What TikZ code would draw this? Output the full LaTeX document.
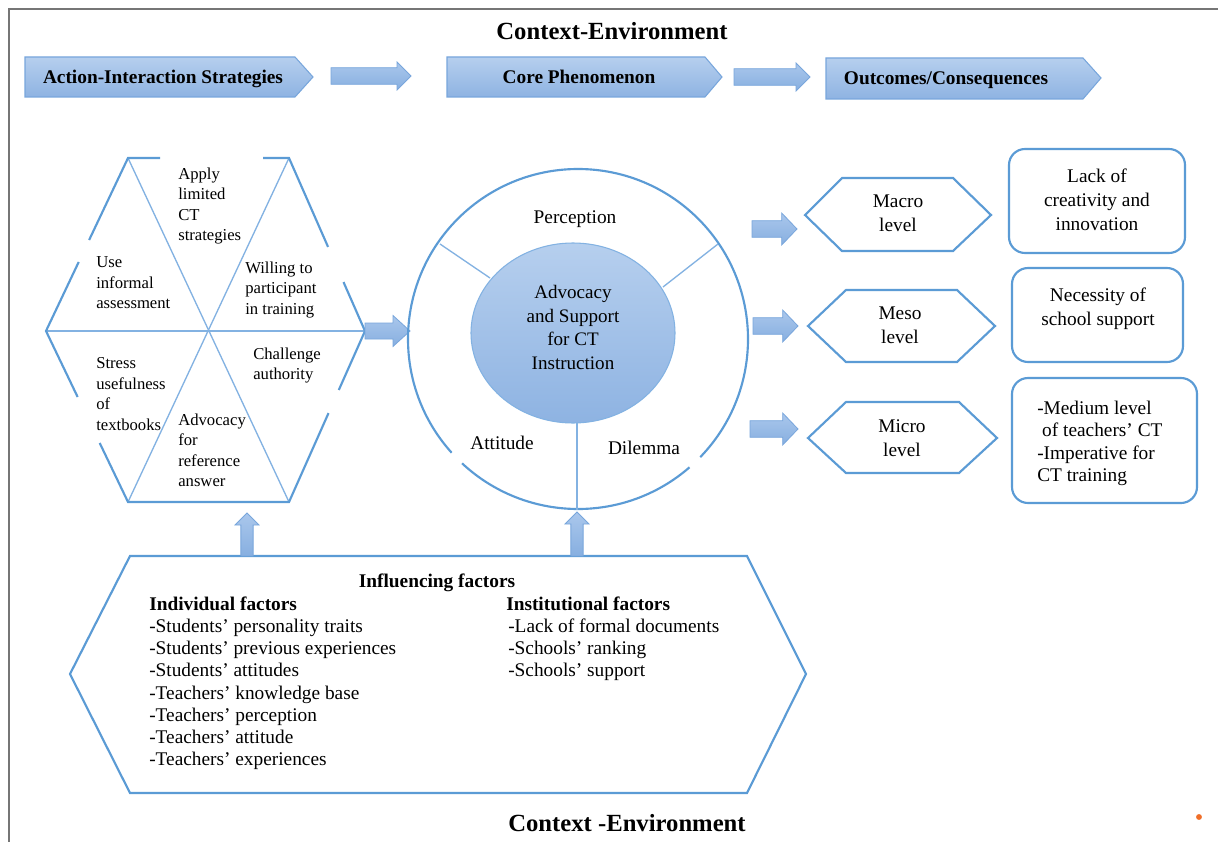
\documentclass[tikz,border=0pt]{standalone}
\usepackage{fontspec}
\setmainfont{Liberation Serif}
\usetikzlibrary{arrows.meta,shapes.geometric,calc}

\definecolor{linecol}{RGB}{91,155,213}
\definecolor{thincol}{RGB}{131,178,226}
\definecolor{filltop}{RGB}{182,207,238}
\definecolor{fillbot}{RGB}{142,179,226}
\definecolor{arrtop}{RGB}{170,199,236}
\definecolor{arrbot}{RGB}{135,175,224}
\definecolor{arrline}{RGB}{120,166,220}
\definecolor{framecol}{RGB}{118,118,118}
\definecolor{dotcol}{RGB}{240,110,40}

% #1 name, #2 start, #3 end, #4 shaft half width, #5 head half width, #6 head length
\newcommand\myblockarrow[6]{%
  \coordinate (#1-b) at ($(#3)!#6!(#2)$);
  \path[arrowfill] ($(#2)!#4!90:(#3)$) -- ($(#1-b)!#4!90:(#3)$) -- ($(#1-b)!#5!90:(#3)$) -- (#3)
    -- ($(#1-b)!#5!-90:(#3)$) -- ($(#1-b)!#4!-90:(#3)$) -- ($(#2)!#4!-90:(#3)$) -- cycle;
}

\begin{document}
\begin{tikzpicture}[x=0.75pt,y=-0.75pt,
  outl/.style={draw=linecol,line width=1.6pt},
  thinl/.style={draw=thincol,line width=1pt},
  gradfill/.style={top color=filltop,bottom color=fillbot},
  arrowfill/.style={top color=arrtop,bottom color=arrbot,draw=arrline,line width=0.6pt},
  bandshape/.style={gradfill,draw=arrline,line width=0.8pt},
  titletxt/.style={font=\fontsize{18.5}{22}\selectfont\bfseries,inner sep=0pt,anchor=base},
  bandtxt/.style={font=\fontsize{14.5}{17}\selectfont\bfseries,inner sep=0pt,anchor=base},
  hextxt/.style={font=\fontsize{12.5}{15.4}\selectfont,align=left,inner sep=0pt,anchor=north west},
  ctxt/.style={font=\fontsize{14.5}{18}\selectfont,align=center,inner sep=0pt},
  listtxt/.style={font=\fontsize{14.5}{16.65}\selectfont,align=left,inner sep=0pt,anchor=north west},
  outbox/.style={draw=linecol,line width=1.6pt,rounded corners=12pt,inner sep=0pt}
]
\useasboundingbox (0,0) rectangle (1218,842);
\fill[white] (0,0) rectangle (1218,842);
\draw[framecol,line width=1.5pt] (9,842) -- (9,9) -- (1218,9);

% ---------- title ----------
\node[titletxt] (ctop) at (612,40) {Context-Environment};

% ---------- band ----------
\path[bandshape] (25,57) -- (295,57) -- (313,77) -- (295,97) -- (25,97) -- cycle;
\path[bandshape] (447,57) -- (705,57) -- (722,77) -- (705,97) -- (447,97) -- cycle;
\path[bandshape] (826,58) -- (1083,58) -- (1101,78) -- (1083,99) -- (826,99) -- cycle;
\node[bandtxt] (band1) at (163,84) {Action-Interaction Strategies};
\node[bandtxt] (band2) at (579,84) {Core Phenomenon};
\node[bandtxt] (band3) at (946,85) {Outcomes/Consequences};
\coordinate (ba1s) at (331,76); \coordinate (ba1e) at (411,76);
\coordinate (ba2s) at (734,77); \coordinate (ba2e) at (810,77);
\myblockarrow{ba1}{ba1s}{ba1e}{6.2pt}{10.5pt}{10.5pt}
\myblockarrow{ba2}{ba2s}{ba2e}{6.2pt}{10.5pt}{10.5pt}

% ---------- left hexagon ----------
\coordinate (hL) at (46,331);  \coordinate (hTL) at (128,158);
\coordinate (hTR) at (289,158); \coordinate (hR) at (365,331);
\coordinate (hBR) at (289,502); \coordinate (hBL) at (128,502);
\draw[thinl] (hL) -- (hR);
\draw[thinl] (hTL) -- (hBR);
\draw[thinl] (hTR) -- (hBL);
\draw[outl] ($(hTL)!0.839!(hTR)$) -- (hTR) -- ($(hTR)!0.514!(hR)$);
\draw[outl] ($(hTR)!0.717!(hR)$) -- (hR) -- ($(hR)!0.345!(hBR)$);
\draw[outl] ($(hR)!0.48!(hBR)$) -- (hBR) -- (hBL) -- ($(hBL)!0.345!(hL)$);
\draw[outl] ($(hBL)!0.614!(hL)$) -- (hL) -- ($(hL)!0.399!(hTL)$);
\draw[outl] ($(hL)!0.526!(hTL)$) -- (hTL) -- ($(hTL)!0.199!(hTR)$);

\node[hextxt] (apply) at (178,167.5) {Apply\\limited\\CT\\strategies};
\node[hextxt] (use) at (96,256.5) {Use\\informal\\assessment};
\node[hextxt] (willing) at (245,261.5) {Willing to\\participant\\in training};
\node[hextxt] (challenge) at (253,347.5) {Challenge\\authority};
\node[hextxt] (stress) at (96,357.5) {Stress\\usefulness\\of\\textbooks};
\node[hextxt] (advoc) at (178,413.5) {Advocacy\\for\\reference\\answer};

% ---------- circle ----------
\coordinate (O) at (578,339);
\coordinate (cW) at (410,331);
\myblockarrow{ma}{hR}{cW}{6pt}{11.6pt}{12.75pt}
\draw[outl] (O) ++(227:127.5pt) arc[start angle=227,end angle=311,radius=127.5pt];
\draw[outl] (O) ++(316:127.5pt) arc[start angle=316,end angle=582,radius=127.5pt];
\node[ellipse,minimum width=153pt,minimum height=135pt,inner sep=0pt,gradfill,draw=thincol,line width=0.8pt] (coreshape) at (573,333) {};
\coordinate (sp1o) at (440,244); \coordinate (sp1i) at (490,278);
\coordinate (sp2o) at (718,244); \coordinate (sp2i) at (663,287);
\coordinate (sp3o) at (577,510); \coordinate (sp3i) at (577,423);
\draw[thinl] (sp1i) -- (sp1o);
\draw[thinl] (sp2i) -- (sp2o);
\draw[thinl] (sp3i) -- (sp3o);
\node[ctxt,font=\fontsize{14.3}{17.8}\selectfont,anchor=north] (coretext) at (573,285) {Advocacy\\and Support\\for CT\\Instruction};
\node[ctxt,anchor=base] (perc) at (575,223) {Perception};
\node[ctxt,anchor=base] (att) at (502,449) {Attitude};
\node[ctxt,anchor=base] (dil) at (644,454) {Dilemma};

% ---------- right side ----------
\coordinate (r1s) at (752,229); \coordinate (r1e) at (797,229);
\coordinate (r2s) at (753,326); \coordinate (r2e) at (798,326);
\coordinate (r3s) at (750,429); \coordinate (r3e) at (798,429);
\myblockarrow{r1}{r1s}{r1e}{6.2pt}{12pt}{11.5pt}
\myblockarrow{r2}{r2s}{r2e}{6.2pt}{12pt}{11.5pt}
\myblockarrow{r3}{r3s}{r3e}{6.2pt}{12pt}{11.5pt}

\draw[outl] (805,215) -- (842,178) -- (953,178) -- (991,215) -- (953,251) -- (842,251) -- cycle;
\draw[outl] (808,326) -- (846,290) -- (957,290) -- (995,326) -- (957,362) -- (846,362) -- cycle;
\draw[outl] (808,438) -- (846,402) -- (959,402) -- (997,438) -- (959,473) -- (846,473) -- cycle;
\node[ctxt,anchor=north] (macro) at (898,195) {Macro\\level};
\node[ctxt,anchor=north] (meso) at (900,307) {Meso\\level};
\node[ctxt,anchor=north] (micro) at (902,419) {Micro\\level};

\node[outbox,minimum width=132pt,minimum height=78pt] (ob1) at (1097,201) {};
\node[outbox,minimum width=128.25pt,minimum height=70.5pt] (ob2) at (1097.5,315) {};
\node[outbox,minimum width=138.75pt,minimum height=93.75pt] (ob3) at (1104.5,440.5) {};
\node[ctxt,anchor=north] (ob1t) at (1097,169) {Lack of\\creativity and\\innovation};
\node[ctxt,anchor=north] (ob2t) at (1098,288) {Necessity of\\school support};
\node[listtxt] (ob3t) at (1037,401) {-Medium level\\\hspace*{3.7pt}of teachers’ CT\\-Imperative for\\CT training};

% ---------- influencing factors ----------
\draw[outl] (70,674) -- (130,556) -- (747,556) -- (806,674) -- (747,793) -- (130,793) -- cycle;
\coordinate (u1s) at (247,556); \coordinate (u1e) at (247,513);
\coordinate (u2s) at (577,556); \coordinate (u2e) at (577,512);
\myblockarrow{u1}{u1s}{u1e}{4.6pt}{9pt}{9pt}
\myblockarrow{u2}{u2s}{u2e}{4.6pt}{9pt}{9pt}
\node[ctxt,font=\fontsize{14.5}{17}\selectfont\bfseries,anchor=north] (infl) at (437,574) {Influencing factors};
\node[listtxt] (indiv) at (149,596.5) {\textbf{Individual factors}\\-Students’ personality traits\\-Students’ previous experiences\\-Students’ attitudes\\-Teachers’ knowledge base\\-Teachers’ perception\\-Teachers’ attitude\\-Teachers’ experiences};
\node[listtxt] (instit) at (506,596.5) {\textbf{Institutional factors}\\\hspace*{1.5pt}-Lack of formal documents\\\hspace*{1.5pt}-Schools’ ranking\\\hspace*{1.5pt}-Schools’ support};

\node[titletxt] (cbot) at (627,831) {Context -Environment};
\fill[dotcol] (1199,817) circle[radius=2.2pt];
\end{tikzpicture}
\end{document}
